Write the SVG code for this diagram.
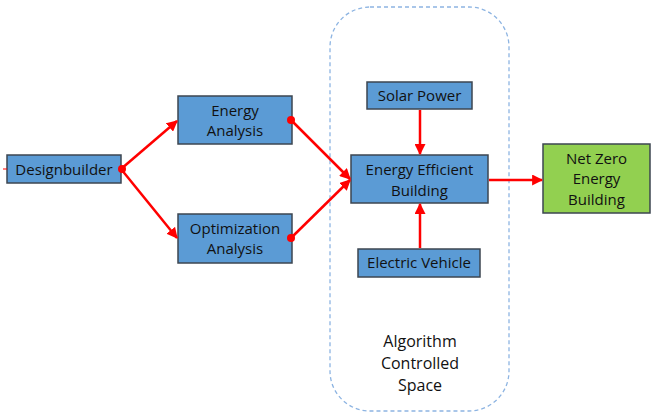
<svg xmlns="http://www.w3.org/2000/svg" width="652" height="413" viewBox="0 0 652 413">
<style>
.box{fill:#5B9BD5;stroke:#3C4650;stroke-width:1.5}
.green{fill:#92D050;stroke:#3C4650;stroke-width:1.5}
text{font-family:"Open Sans","Liberation Sans",sans-serif;font-size:15px;fill:#111;text-anchor:middle}
.big{font-size:16px}
.conn{stroke:#F00;stroke-width:2.5;fill:none}
</style>
<defs>
<marker id="ah" viewBox="0 0 10 10" refX="9" refY="5" markerWidth="4.4" markerHeight="4.4" orient="auto" markerUnits="strokeWidth">
<path d="M0,0 L10,5 L0,10 z" fill="#F00"/>
</marker>
</defs>
<rect x="330" y="7" width="179" height="404" rx="40" ry="40" fill="none" stroke="#8DB4E2" stroke-width="1.3" stroke-dasharray="4,3"/>
<text class="big" x="420" y="347">Algorithm</text>
<text class="big" x="420" y="369">Controlled</text>
<text class="big" x="420" y="391">Space</text>
<g id="designbuilder">
<rect class="box" x="7" y="155" width="114" height="28"/>
<text x="64" y="174.5">Designbuilder</text>
</g>
<g id="energy-analysis">
<rect class="box" x="178" y="96" width="114" height="48"/>
<text x="235" y="116">Energy</text>
<text x="235" y="136">Analysis</text>
</g>
<g id="optimization-analysis">
<rect class="box" x="178" y="214" width="114" height="49"/>
<text x="235" y="234">Optimization</text>
<text x="235" y="254">Analysis</text>
</g>
<g id="solar-power">
<rect class="box" x="367" y="82" width="105" height="27"/>
<text x="419.5" y="101">Solar Power</text>
</g>
<g id="energy-efficient-building">
<rect class="box" x="351" y="155" width="137" height="48"/>
<text x="419.5" y="175">Energy Efficient</text>
<text x="419.5" y="196">Building</text>
</g>
<g id="electric-vehicle">
<rect class="box" x="358" y="249" width="122" height="28"/>
<text x="419" y="268">Electric Vehicle</text>
</g>
<g id="net-zero">
<rect class="green" x="543" y="144" width="107" height="69"/>
<text x="596.5" y="164">Net Zero</text>
<text x="596.5" y="184">Energy</text>
<text x="596.5" y="205">Building</text>
</g>
<g id="connectors">
<line x1="3" y1="169" x2="7" y2="169" stroke="#F00" stroke-width="1"/>
<line class="conn" x1="121" y1="169" x2="177" y2="121" marker-end="url(#ah)"/>
<line class="conn" x1="121" y1="169" x2="177" y2="238" marker-end="url(#ah)"/>
<circle cx="122" cy="169" r="4" fill="#F00"/>
<line class="conn" x1="291" y1="120" x2="350" y2="179" marker-end="url(#ah)"/>
<line class="conn" x1="291" y1="238" x2="350" y2="180" marker-end="url(#ah)"/>
<circle cx="291" cy="120" r="4" fill="#F00"/>
<circle cx="291" cy="238" r="4" fill="#F00"/>
<line class="conn" x1="420" y1="110" x2="420" y2="154" marker-end="url(#ah)"/>
<line class="conn" x1="420" y1="248" x2="420" y2="204" marker-end="url(#ah)"/>
<line class="conn" x1="489" y1="180" x2="542" y2="180" marker-end="url(#ah)"/>
</g>
</svg>
